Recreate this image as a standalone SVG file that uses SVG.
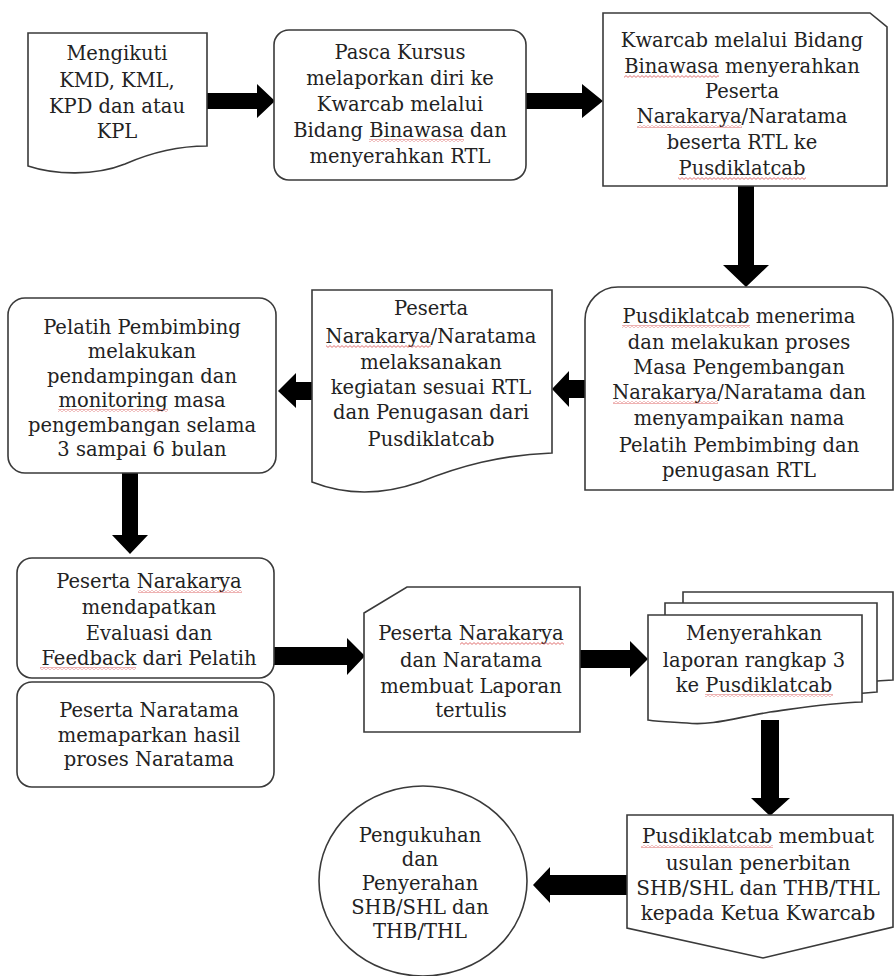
<svg xmlns="http://www.w3.org/2000/svg" width="895" height="976" viewBox="0 0 895 976">
<style>
  .shape { fill: #ffffff; stroke: #3a3a3a; stroke-width: 1.6; }
  .arrow { fill: #000000; stroke: none; }
  text { font-family: "DejaVu Serif", "Liberation Serif", serif; font-size: 19.5px; fill: #222222; text-anchor: middle; }
  .t20 { font-size: 20px; }
  .sq { fill: url(#wave); }
</style>
<defs>
  <pattern id="wave" width="4" height="3" patternUnits="userSpaceOnUse">
    <path d="M0,2.4 L2,0.6 L4,2.4" fill="none" stroke="#d85050" stroke-width="0.8"/>
  </pattern>
</defs>
<rect width="895" height="976" fill="#ffffff"/>

<g id="connectors">
  <polygon class="arrow" points="207,93 257,93 257,84 275,101 257,118 257,109 207,109"/>
  <polygon class="arrow" points="526,93 582,93 582,84 603,101 582,118 582,109 526,109"/>
  <polygon class="arrow" points="738,186 754,186 754,265 769,265 746,287 723,265 738,265"/>
  <polygon class="arrow" points="585,380 569,380 569,371 552,389 569,407 569,398 585,398"/>
  <polygon class="arrow" points="312,382 296,382 296,373 278,391 296,408 296,400 312,400"/>
  <polygon class="arrow" points="122,473 138,473 138,535 148,535 130,554 112,535 122,535"/>
  <polygon class="arrow" points="274,647 347,647 347,638 365,656 347,675 347,665 274,665"/>
  <polygon class="arrow" points="580,650 630,650 630,641 648,659 630,677 630,668 580,668"/>
  <polygon class="arrow" points="761,720 779,720 779,798 790,798 770,816 751,798 761,798"/>
  <polygon class="arrow" points="627,875 550,875 550,867 533,885 550,903 550,895 627,895"/>
</g>

<g id="n1">
  <path class="shape" d="M28,33 H207 V146 C175,146 150,153 125,164 C95,176 55,175 28,166 Z"/>
  <text x="117" y="60">Mengikuti</text>
  <text x="117" y="87">KMD, KML,</text>
  <text x="117" y="113">KPD dan atau</text>
  <text x="117" y="138">KPL</text>
</g>

<g id="n2">
  <rect class="shape" x="274" y="30" width="252" height="150" rx="15" ry="15"/>
  <text x="400" y="59">Pasca Kursus</text>
  <text x="400" y="85">melaporkan diri ke</text>
  <text x="400" y="111">Kwarcab melalui</text>
  <text x="400" y="137">Bidang Binawasa dan</text>
  <text x="400" y="163">menyerahkan RTL</text>
  <rect class="sq" x="369" y="139" width="95" height="3"/>
</g>

<g id="n3">
  <path class="shape" d="M603,13 H870 L887,27 V186 H603 Z"/>
  <text x="742" y="47">Kwarcab melalui Bidang</text>
  <text x="742" y="73">Binawasa menyerahkan</text>
  <text x="742" y="98">Peserta</text>
  <text x="742" y="123">Narakarya/Naratama</text>
  <text x="742" y="149">beserta RTL ke</text>
  <text x="742" y="175">Pusdiklatcab</text>
  <rect class="sq" x="624" y="75" width="95" height="3"/>
  <rect class="sq" x="637" y="125" width="105" height="3"/>
  <rect class="sq" x="678" y="177" width="128" height="3"/>
</g>

<g id="n4">
  <path class="shape" d="M585,490 V320 A33,33 0 0 1 618,287 H860 A33,33 0 0 1 893,320 V490 Z"/>
  <text x="739" y="323">Pusdiklatcab menerima</text>
  <text x="739" y="349">dan melakukan proses</text>
  <text x="739" y="374">Masa Pengembangan</text>
  <text x="739" y="399">Narakarya/Naratama dan</text>
  <text x="739" y="425">menyampaikan nama</text>
  <text x="739" y="452">Pelatih Pembimbing dan</text>
  <text x="739" y="477">penugasan RTL</text>
  <rect class="sq" x="622" y="325" width="128" height="3"/>
  <rect class="sq" x="613" y="401" width="105" height="3"/>
</g>

<g id="n5">
  <path class="shape" d="M312,290 H552 V453 C500,455 460,466 420,482 C380,496 345,495 312,482 Z"/>
  <text x="431" y="315">Peserta</text>
  <text x="431" y="343">Narakarya/Naratama</text>
  <text x="431" y="369">melaksanakan</text>
  <text x="431" y="394">kegiatan sesuai RTL</text>
  <text x="431" y="419">dan Penugasan dari</text>
  <text x="431" y="446">Pusdiklatcab</text>
  <rect class="sq" x="326" y="345" width="105" height="3"/>
</g>

<g id="n6">
  <rect class="shape" x="8" y="298" width="268" height="175" rx="17" ry="17"/>
  <text x="142" y="334">Pelatih Pembimbing</text>
  <text x="142" y="358">melakukan</text>
  <text x="142" y="383">pendampingan dan</text>
  <text x="142" y="407">monitoring masa</text>
  <text x="142" y="432">pengembangan selama</text>
  <text x="142" y="456">3 sampai 6 bulan</text>
  <rect class="sq" x="58" y="409" width="110" height="3"/>
</g>

<g id="n7">
  <rect class="shape" x="17" y="558" width="257" height="120" rx="15" ry="15"/>
  <text x="149" y="588">Peserta Narakarya</text>
  <text x="149" y="614">mendapatkan</text>
  <text x="149" y="640">Evaluasi dan</text>
  <text x="149" y="665">Feedback dari Pelatih</text>
  <rect class="sq" x="138" y="590" width="104" height="3"/>
  <rect class="sq" x="40" y="667" width="96" height="3"/>
</g>

<g id="n8">
  <rect class="shape" x="17" y="682" width="257" height="105" rx="15" ry="15"/>
  <text x="149" y="717">Peserta Naratama</text>
  <text x="149" y="742">memaparkan hasil</text>
  <text x="149" y="766">proses Naratama</text>
</g>

<g id="n9">
  <path class="shape" d="M364,613 L407,587 H580 V732 H364 Z"/>
  <text x="471" y="640">Peserta Narakarya</text>
  <text x="471" y="667">dan Naratama</text>
  <text x="471" y="693">membuat Laporan</text>
  <text x="471" y="717">tertulis</text>
  <rect class="sq" x="460" y="642" width="104" height="3"/>
</g>

<g id="n10">
  <path class="shape" d="M683,592 H893 V680 C860,682 840,684 820,690 L683,690 Z"/>
  <path class="shape" d="M665,603 H877 V692 C845,694 825,697 800,703 L665,703 Z"/>
  <path class="shape" d="M648,615 H862 V702 C830,703 800,708 770,712 C735,718 710,726 687,723 C672,722 660,722 648,720 Z"/>
  <text x="754" y="640">Menyerahkan</text>
  <text x="754" y="667">laporan rangkap 3</text>
  <text x="754" y="692">ke Pusdiklatcab</text>
  <rect class="sq" x="705" y="694" width="128" height="3"/>
</g>

<g id="n11">
  <path class="shape" d="M627,815 H893 V927 L763,958 L627,928 Z"/>
  <text class="t20" x="758" y="843">Pusdiklatcab membuat</text>
  <text class="t20" x="758" y="870">usulan penerbitan</text>
  <text class="t20" x="758" y="895">SHB/SHL dan THB/THL</text>
  <text class="t20" x="758" y="920">kepada Ketua Kwarcab</text>
  <rect class="sq" x="641" y="845" width="132" height="3"/>
</g>

<g id="n12">
  <ellipse class="shape" cx="423" cy="881" rx="104" ry="95"/>
  <text x="420" y="842">Pengukuhan</text>
  <text x="420" y="866">dan</text>
  <text x="420" y="890">Penyerahan</text>
  <text x="420" y="914">SHB/SHL dan</text>
  <text x="420" y="938">THB/THL</text>
</g>
</svg>
